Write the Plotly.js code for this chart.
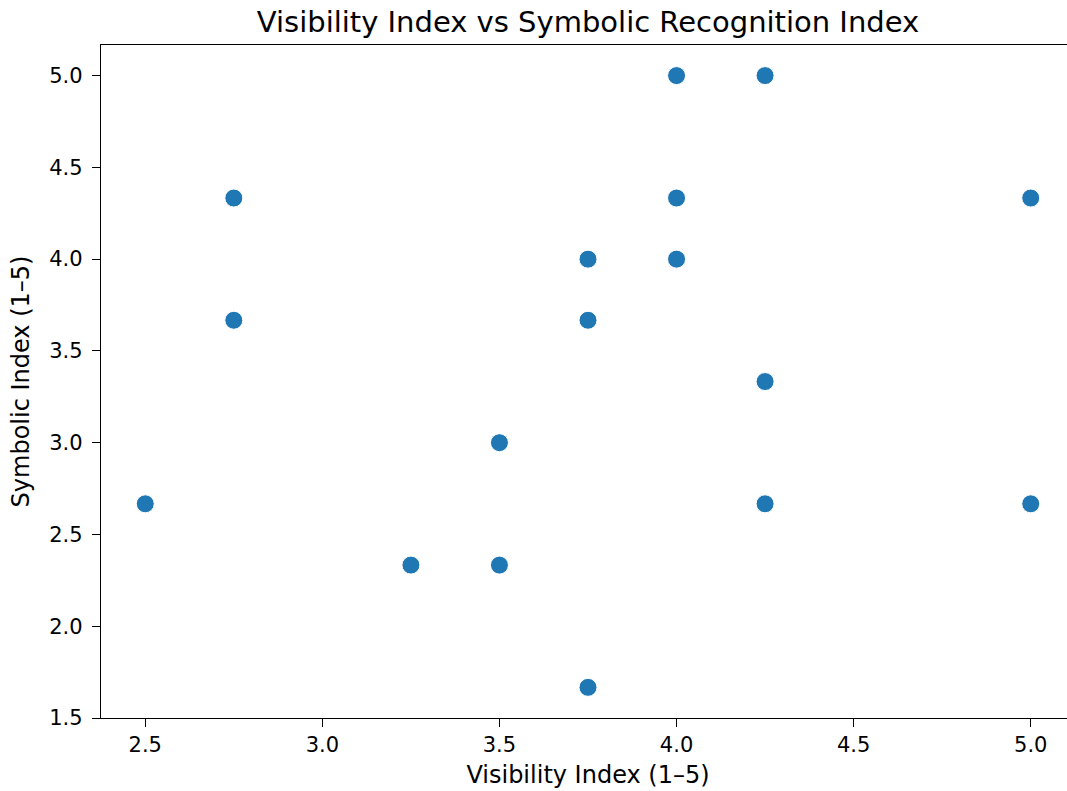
<!DOCTYPE html>
<html>
<head>
<meta charset="utf-8">
<script src="https://cdn.plot.ly/plotly-3.0.1.min.js"></script>
<style>
html, body { margin: 0; padding: 0; overflow: hidden; background: #fff; }
#chart { width: 1080px; height: 791px; }
</style>
</head>
<body>
<div id="chart"></div>
<script>
const visibility = [2.5, 2.75, 2.75, 3.25, 3.5, 3.5, 3.75, 3.75, 3.75, 4.0, 4.0, 4.0, 4.25, 4.25, 4.25, 5.0, 5.0];
const symbolic   = [2.667, 4.333, 3.667, 2.333, 3.0, 2.333, 4.0, 3.667, 1.667, 5.0, 4.333, 4.0, 5.0, 3.333, 2.667, 4.333, 2.667];
const xTicks = [2.5, 3.0, 3.5, 4.0, 4.5, 5.0];
const yTicks = [1.5, 2.0, 2.5, 3.0, 3.5, 4.0, 4.5, 5.0];

const font = "DejaVu Sans, sans-serif";
const trace = {
  x: visibility, y: symbolic, type: 'scatter', mode: 'markers',
  marker: { color: '#1f77b4', size: 18, line: { color: '#ffffff', width: 1 } },
  hoverinfo: 'x+y'
};
const axisCommon = {
  showgrid: false, zeroline: false, showline: true, linecolor: '#000', linewidth: 1.4,
  ticks: 'outside', ticklen: 8, tickwidth: 1.4, tickcolor: '#000', mirror: true,
  tickfont: { family: font, size: 21, color: '#000' }
};
const layout = {
  width: 1080, height: 791,
  margin: { l: 101, r: 5, t: 45, b: 73 },
  paper_bgcolor: '#fff', plot_bgcolor: '#fff',
  showlegend: false,
  title: { text: 'Visibility Index vs Symbolic Recognition Index', font: { family: font, size: 29, color: '#000' }, x: 0.5, xref: 'paper', y: 0.972, yanchor: 'middle' },
  xaxis: Object.assign({}, axisCommon, {
    range: [2.375, 5.125], tickvals: xTicks, ticktext: xTicks.map(v => v.toFixed(1)),
    title: { text: 'Visibility Index (1–5)', font: { family: font, size: 24, color: '#000' }, standoff: 9 }
  }),
  yaxis: Object.assign({}, axisCommon, {
    range: [1.5, 5.1667], tickvals: yTicks, ticktext: yTicks.map(v => v.toFixed(1)),
    ticklabelstandoff: 5,
    title: { text: 'Symbolic Index (1–5)', font: { family: font, size: 24, color: '#000' }, standoff: 12 }
  })
};
Plotly.newPlot('chart', [trace], layout, { displayModeBar: false });
</script>
</body>
</html>
